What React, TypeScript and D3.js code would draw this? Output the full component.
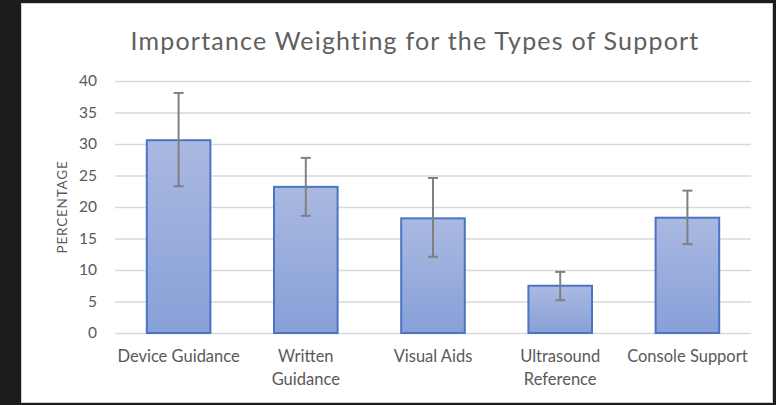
import React, { useEffect, useRef } from "react";
import * as d3 from "d3";

const categories = ["Device Guidance", "Written Guidance", "Visual Aids", "Ultrasound Reference", "Console Support"];
const labelLines = [["Device Guidance"], ["Written", "Guidance"], ["Visual Aids"], ["Ultrasound", "Reference"], ["Console Support"]];
const values = [30.6, 23.2, 18.2, 7.5, 18.3];
const errLow = [23.3, 18.6, 12.1, 5.2, 14.1];
const errHigh = [38.1, 27.8, 24.6, 9.7, 22.6];
const yTicks = [0, 5, 10, 15, 20, 25, 30, 35, 40];

const W = 776;
const H = 405;
const font = "Lato, 'Open Sans', sans-serif";

export default function App() {
  const ref = useRef<SVGSVGElement>(null);

  useEffect(() => {
    const svg = d3.select(ref.current);
    svg.selectAll("*").remove();

    // dark surround + white panel
    svg.append("rect").attr("width", W).attr("height", H).attr("fill", "#1c1c1c");
    svg.append("rect").attr("x", 21.5).attr("y", 3.5).attr("width", 751).attr("height", 399)
      .attr("fill", "#ffffff").attr("stroke", "#cfcfcf");

    const defs = svg.append("defs");
    const grad = defs.append("linearGradient").attr("id", "barGrad")
      .attr("x1", 0).attr("y1", 0).attr("x2", 0).attr("y2", 1);
    grad.append("stop").attr("offset", "0%").attr("stop-color", "#aab9e1");
    grad.append("stop").attr("offset", "100%").attr("stop-color", "#87a0d8");

    const left = 115, right = 751, top = 81, bottom = 333;

    const x = d3.scaleBand().domain(categories).range([left, right]).paddingInner(0.5).paddingOuter(0.25);
    const y = d3.scaleLinear().domain([0, 40]).range([bottom, top]);

    svg.append("text")
      .attr("x", 415).attr("y", 50)
      .attr("text-anchor", "middle")
      .attr("font-family", font).attr("font-size", 25)
      .attr("fill", "#606060")
      .attr("letter-spacing", 1.2)
      .text("Importance Weighting for the Types of Support");

    const yAxis = svg.append("g")
      .attr("transform", `translate(${left},0)`)
      .call(d3.axisLeft(y).tickValues(yTicks).tickSize(-(right - left)).tickPadding(18));
    yAxis.select(".domain").remove();
    yAxis.selectAll(".tick line").attr("stroke", "#d9d9d9").attr("stroke-width", 1.3);
    yAxis.selectAll(".tick text").attr("fill", "#595959").attr("font-size", 15.5).attr("font-family", font);

    svg.append("text")
      .attr("transform", `translate(67,${(top + bottom) / 2}) rotate(-90)`)
      .attr("text-anchor", "middle")
      .attr("font-family", font).attr("font-size", 13.5)
      .attr("letter-spacing", 0.8)
      .attr("fill", "#595959")
      .text("PERCENTAGE");

    const g = svg.append("g");
    g.selectAll("rect.bar").data(categories).enter().append("rect")
      .attr("class", "bar")
      .attr("x", (d) => x(d)!)
      .attr("y", (_, i) => y(values[i]))
      .attr("width", x.bandwidth())
      .attr("height", (_, i) => bottom - y(values[i]))
      .attr("fill", "url(#barGrad)")
      .attr("stroke", "#4a74c6")
      .attr("stroke-width", 2);

    const err = svg.append("g").attr("stroke", "#808080").attr("stroke-width", 2);
    categories.forEach((c, i) => {
      const cx = x(c)! + x.bandwidth() / 2;
      err.append("line").attr("x1", cx).attr("x2", cx).attr("y1", y(errHigh[i])).attr("y2", y(errLow[i]));
      err.append("line").attr("x1", cx - 5).attr("x2", cx + 5).attr("y1", y(errHigh[i])).attr("y2", y(errHigh[i]));
      err.append("line").attr("x1", cx - 5).attr("x2", cx + 5).attr("y1", y(errLow[i])).attr("y2", y(errLow[i]));
    });

    const xl = svg.append("g");
    categories.forEach((c, i) => {
      const cx = x(c)! + x.bandwidth() / 2;
      const t = xl.append("text")
        .attr("x", cx).attr("y", 362)
        .attr("text-anchor", "middle")
        .attr("font-family", font).attr("font-size", 16.5)
        .attr("fill", "#595959");
      labelLines[i].forEach((line, j) => {
        t.append("tspan").attr("x", cx).attr("dy", j === 0 ? 0 : 23).text(line);
      });
    });
  }, []);

  return (
    <svg ref={ref} width={W} height={H} style={{ position: "absolute", left: 0, top: 0 }} />
  );
}
